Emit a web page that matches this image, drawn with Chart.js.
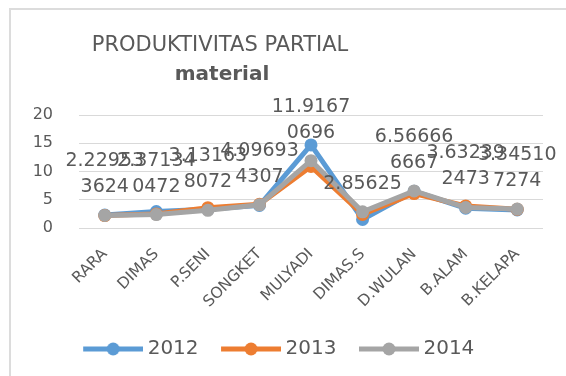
<!DOCTYPE html>
<html>
<head>
<meta charset="utf-8">
<script src="https://cdn.jsdelivr.net/npm/chart.js@4.4.1/dist/chart.umd.min.js"></script>
<style>
  html, body { margin: 0; padding: 0; background: #ffffff; }
  #wrap { position: relative; width: 566px; height: 376px; overflow: hidden; }
  #wrap canvas { position: absolute; left: 0; top: 0; }
  #frame {
    position: absolute; left: 9px; top: 8px; right: -4px; bottom: -4px;
    border-left: 2px solid #dcdcdc; border-top: 2px solid #dcdcdc;
    pointer-events: none;
  }
</style>
</head>
<body>
<div id="wrap">
  <canvas id="chart" width="566" height="376"></canvas>
  <div id="frame"></div>
</div>
<script>
// Partial productivity (material) per craftsman, three years
const categories = ['RARA', 'DIMAS', 'P.SENI', 'SONGKET', 'MULYADI', 'DIMAS.S', 'D.WULAN', 'B.ALAM', 'B.KELAPA'];
const seriesNames = ['2012', '2013', '2014'];
const values2012 = [2.3, 2.9, 3.3, 4.0, 14.7, 1.5, 6.5, 3.5, 3.2];
const values2013 = [2.2, 2.5, 3.6, 4.2, 10.9, 2.4, 6.1, 3.9, 3.3];
const values2014 = [2.229533624, 2.371340472, 3.131638072, 4.096934307, 11.91670696, 2.85625, 6.566666667, 3.632392473, 3.345107274];
const yTicks = [0, 5, 10, 15, 20];
const titleLines = ['PRODUKTIVITAS PARTIAL', 'material'];

const seriesColors = ['#5B9BD5', '#ED7D31', '#A5A5A5'];
const textColor = '#595959';
const fontFamily = '"DejaVu Sans", "Open Sans", sans-serif';

// Legend swatch: a thick line with a round marker, padded on the left
function makeSwatch(color) {
  const c = document.createElement('canvas');
  c.width = 80; c.height = 16;
  const g = c.getContext('2d');
  g.strokeStyle = color;
  g.lineWidth = 5;
  g.lineCap = 'butt';
  g.beginPath();
  g.moveTo(20, 8); g.lineTo(80, 8);
  g.stroke();
  g.fillStyle = color;
  g.beginPath();
  g.arc(50, 8, 6.5, 0, Math.PI * 2);
  g.fill();
  return c;
}
const swatches = seriesColors.map(makeSwatch);

// Two-line chart title, drawn left of centre like the original sheet
const titlePlugin = {
  id: 'sheetTitle',
  afterDraw(chart) {
    const ctx = chart.ctx;
    ctx.save();
    ctx.fillStyle = textColor;
    ctx.textAlign = 'center';
    ctx.textBaseline = 'alphabetic';
    ctx.font = '21px ' + fontFamily;
    ctx.fillText(titleLines[0], 220, 51);
    ctx.font = 'bold 20px ' + fontFamily;
    ctx.fillText(titleLines[1], 222, 80);
    ctx.restore();
  }
};

// Value labels for the 2014 series, wrapped after seven characters
const valueLabels = {
  id: 'valueLabels',
  afterDatasetsDraw(chart) {
    const meta = chart.getDatasetMeta(2);
    const ctx = chart.ctx;
    ctx.save();
    ctx.font = '19px ' + fontFamily;
    ctx.fillStyle = textColor;
    ctx.textAlign = 'center';
    ctx.textBaseline = 'middle';
    meta.data.forEach((pt, i) => {
      const s = String(values2014[i]);
      const lines = s.length > 7 ? [s.slice(0, 7), s.slice(7)] : [s];
      const base = pt.y - 28;
      for (let k = lines.length - 1, j = 0; k >= 0; k--, j++) {
        ctx.fillText(lines[k], pt.x, base - j * 26);
      }
    });
    ctx.restore();
  }
};

const allValues = [values2012, values2013, values2014];

new Chart(document.getElementById('chart'), {
  type: 'line',
  data: {
    labels: categories,
    datasets: allValues.map((vals, i) => ({
      label: seriesNames[i],
      data: vals,
      borderColor: seriesColors[i],
      backgroundColor: seriesColors[i],
      borderWidth: 5,
      pointRadius: 6.5,
      pointHoverRadius: 6.5,
      pointBorderWidth: 0,
      pointBackgroundColor: seriesColors[i],
      tension: 0,
      order: 2 - i
    }))
  },
  options: {
    responsive: false,
    animation: false,
    devicePixelRatio: 1,
    layout: { padding: { top: 115, right: 23, bottom: 7, left: 0 } },
    scales: {
      x: {
        offset: true,
        grid: { display: false },
        border: { display: false },
        ticks: {
          color: textColor,
          font: { family: fontFamily, size: 15.5 },
          maxRotation: 45,
          minRotation: 45,
          padding: 9,
          autoSkip: false
        },
        afterFit(scale) { scale.height = 103; }
      },
      y: {
        min: 0,
        max: 20,
        grid: { color: '#d9d9d9', lineWidth: 1, drawTicks: false },
        border: { display: false },
        ticks: {
          color: textColor,
          font: { family: fontFamily, size: 16 },
          padding: 26
        },
        afterBuildTicks(scale) { scale.ticks = yTicks.map(v => ({ value: v })); },
        afterFit(scale) { scale.width = 79; }
      }
    },
    plugins: {
      title: { display: false },
      tooltip: { enabled: false },
      legend: {
        position: 'bottom',
        labels: {
          usePointStyle: true,
          pointStyleWidth: 69,
          boxHeight: 16,
          padding: 8,
          color: textColor,
          font: { family: fontFamily, size: 20 },
          sort: (a, b) => a.datasetIndex - b.datasetIndex,
          generateLabels(chart) {
            const items = Chart.defaults.plugins.legend.labels.generateLabels(chart);
            return items.map(it => Object.assign(it, { pointStyle: swatches[it.datasetIndex] }));
          }
        }
      }
    }
  },
  plugins: [titlePlugin, valueLabels]
});
</script>
</body>
</html>
